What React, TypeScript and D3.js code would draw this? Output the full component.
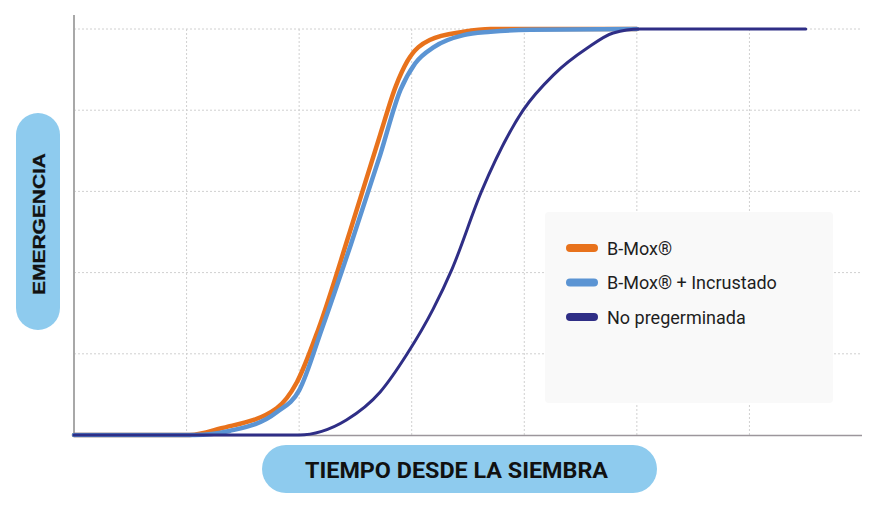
import * as d3 from 'd3';

// days since sowing (x) and emergence % (y)
const bmoxDays = [0, 1.03, 1.3, 1.8, 1.98, 2.17, 2.45, 2.72, 2.86, 2.96, 3.16, 3.46, 3.7, 5.0];
const bmoxPct = [0, 0, 1.6, 6.6, 13, 26, 50, 74, 86, 92, 97.3, 99.3, 100, 100];

const incrDays = [0, 1.07, 1.38, 1.8, 2.0, 2.2, 2.46, 2.72, 2.9, 3.03, 3.2, 3.46, 3.7, 4.05, 5.0];
const incrPct = [0, 0, 1.0, 5.6, 11, 26, 47, 69, 85, 91.5, 95.6, 98.5, 99.3, 99.8, 100];

const noPreDays = [0, 2.0, 2.2, 2.42, 2.72, 2.96, 3.19, 3.36, 3.62, 3.99, 4.26, 4.56, 4.79, 5.03, 6.5];
const noPrePct = [0, 0, 0.9, 3.7, 10.6, 20, 31, 41, 60, 80, 88.7, 95.3, 99, 100, 100];

const seriesNames = ['B-Mox®', 'B-Mox® + Incrustado', 'No pregerminada'];
const seriesColors = ['#e8721c', '#5b94d3', '#2f2e86'];

const xTicks = [1, 2, 3, 4, 5, 6];
const yTicks = [20, 40, 60, 80, 100];

const W = 880;
const H = 513;
const PILL = '#8ecbee';

export default function App() {
  const x = d3.scaleLinear().domain([0, 7]).range([74, 862]);
  const y = d3.scaleLinear().domain([0, 100]).range([435, 29]);

  const line = d3
    .line<[number, number]>()
    .x((d) => x(d[0]))
    .y((d) => y(d[1]))
    .curve(d3.curveMonotoneX);

  const series = [
    { days: bmoxDays, pct: bmoxPct, width: 4.5 },
    { days: incrDays, pct: incrPct, width: 4.5 },
    { days: noPreDays, pct: noPrePct, width: 3 },
  ];

  return (
    <svg width={W} height={H} style={{ position: 'absolute', left: 0, top: 0, background: '#fff' }}>
      {/* grid */}
      <g stroke="#d0d0d0" strokeWidth={1} strokeDasharray="2,2">
        {yTicks.map((t) => (
          <line key={'h' + t} x1={74} x2={862} y1={y(t)} y2={y(t)} />
        ))}
        {xTicks.map((t) => (
          <line key={'v' + t} x1={x(t)} x2={x(t)} y1={y(100)} y2={y(0)} />
        ))}
      </g>

      {/* axes */}
      <line x1={74} x2={74} y1={15} y2={436} stroke="#a8a8a8" strokeWidth={2} />
      <line x1={74} x2={862} y1={435.5} y2={435.5} stroke="#9c969c" strokeWidth={1.5} />

      {/* legend box */}
      <rect x={545} y={212} width={288} height={191} rx={4} fill="#f9f9f9" />

      {/* curves */}
      {series.map((s, i) => (
        <path
          key={i}
          d={line(s.days.map((d, j) => [d, s.pct[j]] as [number, number])) || ''}
          fill="none"
          stroke={seriesColors[i]}
          strokeWidth={s.width}
          strokeLinejoin="round"
          strokeLinecap="round"
        />
      ))}

      {/* legend */}
      {seriesNames.map((name, i) => (
        <g key={name} transform={`translate(0,${248 + i * 34.5})`}>
          <line x1={570} x2={594} y1={0} y2={0} stroke={seriesColors[i]} strokeWidth={8} strokeLinecap="round" />
          <text x={607} y={6.5} fontFamily="Roboto, 'Noto Sans', sans-serif" fontSize={18} fill="#1e1e1e">
            {name}
          </text>
        </g>
      ))}

      {/* y label pill */}
      <rect x={16} y={113} width={44} height={217} rx={22} fill={PILL} />
      <text
        transform="translate(44.5,224) rotate(-90) scale(1.31,1)"
        textAnchor="middle"
        fontFamily="'Liberation Sans', Arial, sans-serif"
        fontWeight="bold"
        fontSize={16}
        fill="#111"
        stroke="#111"
        strokeWidth={0.3}
      >
        EMERGENCIA
      </text>

      {/* x label pill */}
      <rect x={262} y={445} width={395} height={48} rx={24} fill={PILL} />
      <text
        x={456.5}
        y={478}
        textAnchor="middle"
        fontFamily="Roboto, 'Noto Sans', sans-serif"
        fontWeight="bold"
        fontSize={22}
        textLength={303}
        lengthAdjust="spacingAndGlyphs"
        fill="#111"
      >
        TIEMPO DESDE LA SIEMBRA
      </text>
    </svg>
  );
}
